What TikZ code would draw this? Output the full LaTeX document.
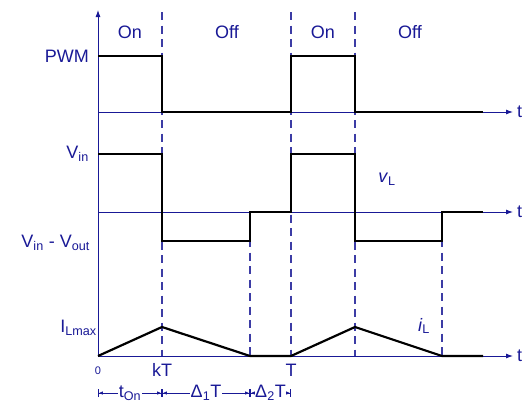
\documentclass[tikz,border=0pt]{standalone}
\usepackage{fontspec}
\setmainfont{Liberation Sans}
\usetikzlibrary{arrows.meta,positioning}
\definecolor{axisblue}{RGB}{25,25,150}
\definecolor{dashblue}{RGB}{60,60,165}

\begin{document}
\begin{tikzpicture}[
  x=1pt, y=-1pt,
  axis/.style={draw=axisblue, line width=0.9pt, -{Latex[length=7pt,width=5pt]}},
  wave/.style={draw=black, line width=2.2pt, line join=miter},
  guide/.style={draw=dashblue, line width=1.1pt, dash pattern=on 8pt off 5.5pt},
  lbl/.style={text=axisblue, font=\fontsize{18}{21}\selectfont, inner sep=1pt},
  tick/.style={text=axisblue, font=\fontsize{11}{13}\selectfont, inner sep=1pt},
  dim/.style={draw=axisblue, line width=0.8pt,
    {Bar[width=8pt]Latex[length=4pt,width=3.5pt]}-{Latex[length=4pt,width=3.5pt]Bar[width=8pt]}}
]
  \useasboundingbox (0,0) rectangle (531,405);

  % axes
  \coordinate (origin) at (98,356);
  \coordinate (ytop) at (98,10);
  \coordinate (pwm0) at (98,112);
  \coordinate (vl0) at (98,212);
  \coordinate (pwmend) at (513,112);
  \coordinate (vlend) at (513,212);
  \coordinate (ilend) at (513,356);

  % dashed guides
  \foreach \xx in {162,291,355}
    \draw[guide] (\xx,12) -- (\xx,356);
  \foreach \xx in {250,442}
    \draw[guide] (\xx,212) -- (\xx,356);

  \draw[axis] (origin) -- (ytop);
  \draw[axis] (pwm0) -- (pwmend);
  \draw[axis] (vl0) -- (vlend);
  \draw[axis] (origin) -- (ilend);

  % waveforms
  \draw[wave] (98,56) -- (162,56) -- (162,112) -- (291,112) -- (291,56)
    -- (355,56) -- (355,112) -- (483,112);
  \draw[wave] (98,154) -- (162,154) -- (162,241) -- (250,241) -- (250,212)
    -- (291,212) -- (291,154) -- (355,154) -- (355,241) -- (442,241)
    -- (442,212) -- (483,212);
  \draw[wave] (98,356) -- (162,327) -- (250,356) -- (291,356) -- (355,327)
    -- (442,356) -- (483,356);

  % labels
  \node[lbl, right=3pt of pwmend] (tpwm) {t};
  \node[lbl, right=3pt of vlend] (tvl) {t};
  \node[lbl, right=3pt of ilend] (til) {t};

  \node[lbl] (on1) at (130,32) {On};
  \node[lbl] (off1) at (227,32) {Off};
  \node[lbl] (on2) at (323,32) {On};
  \node[lbl] (off2) at (410,32) {Off};

  \node[lbl, anchor=east] (pwmlbl) at (90,56) {PWM};
  \node[lbl, anchor=east] (vinlbl) at (90,154) {V\textsubscript{in}};
  \node[lbl, anchor=east] (vdiff) at (91,243) {V\textsubscript{in} - V\textsubscript{out}};
  \node[lbl, anchor=east, inner sep=0pt] (ilmax) at (97,328) {I\textsubscript{Lmax}};
  \node[lbl] (vL) at (387,179) {\textit{v}\textsubscript{L}};
  \node[lbl] (iL) at (424,326) {\textit{i}\textsubscript{L}};

  \node[tick] (zero) at (98,371) {0};
  \node[lbl] (kT) at (162,370) {kT};
  \node[lbl] (T) at (291,370) {T};

  % time intervals
  \coordinate (m0) at (98,393);
  \coordinate (m1) at (162,393);
  \coordinate (m2) at (250,393);
  \coordinate (m3) at (291,393);
  \draw[dim] (m0) -- node[lbl, fill=white, inner sep=0.5pt] (ton) {t\textsubscript{On}} (m1);
  \draw[dim] (m1) -- node[lbl, fill=white, inner sep=0.5pt] (d1) {Δ\textsubscript{1}T} (m2);
  \draw[dim] (m2) -- node[lbl, fill=white, inner sep=0pt] (d2) {Δ\textsubscript{2}T} (m3);
\end{tikzpicture}
\end{document}
